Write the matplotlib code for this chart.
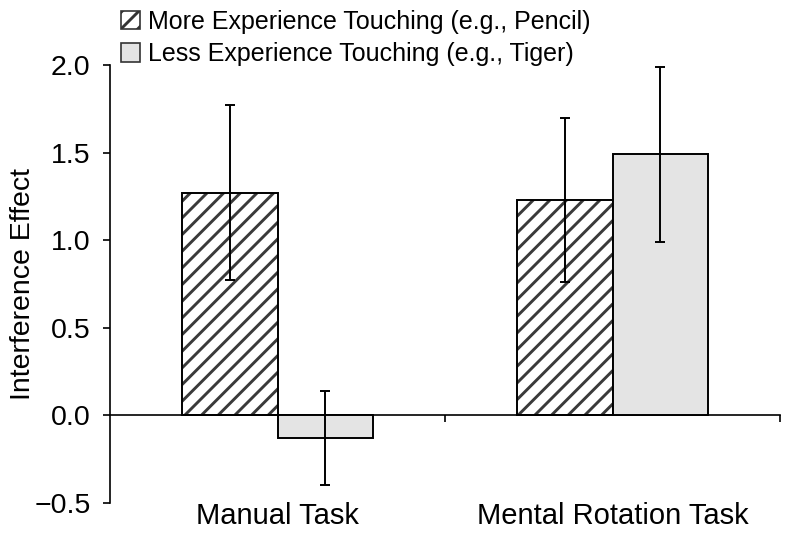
import matplotlib
matplotlib.use("Agg")
import matplotlib.pyplot as plt
from matplotlib.patches import Patch
import numpy as np

categories = ["Manual Task", "Mental Rotation Task"]
more_vals = [1.27, 1.23]
more_err = [0.50, 0.47]
less_vals = [-0.13, 1.49]
less_err = [0.27, 0.50]
series_labels = ["More Experience Touching (e.g., Pencil)", "Less Experience Touching (e.g., Tiger)"]
yticks = [-0.5, 0.0, 0.5, 1.0, 1.5, 2.0]

plt.rcParams['font.family'] = ['Liberation Sans', 'DejaVu Sans']
plt.rcParams['hatch.linewidth'] = 2.1

fig = plt.figure(figsize=(7.91, 5.35), dpi=100)
ax = fig.add_axes([110/791, 1-503/535, 670/791, 438/535])

x = np.arange(len(categories))
w = 0.286
xm = x - w/2
xl = x + w/2

# hatched bars
ax.bar(xm, more_vals, w, color='white', edgecolor='#3a3a3a', hatch='//', linewidth=0, zorder=2)
ax.bar(xm, more_vals, w, fill=False, edgecolor='black', linewidth=1.4, zorder=3)
ax.bar(xl, less_vals, w, color='#e4e4e4', edgecolor='black', linewidth=1.4, zorder=3)

ax.errorbar(xm, more_vals, yerr=more_err, fmt='none', ecolor='black', elinewidth=1.4, capsize=3.5, capthick=1.4, zorder=4)
ax.errorbar(xl, less_vals, yerr=less_err, fmt='none', ecolor='black', elinewidth=1.4, capsize=3.5, capthick=1.4, zorder=4)

ax.set_xlim(-0.5, 1.5)
ax.set_ylim(-0.5, 2.0)
ax.set_yticks(yticks)
ax.set_yticklabels([f"{v:.1f}".replace('-', '\u2212') for v in yticks], fontsize=20.5)
ax.tick_params(axis='y', length=5, width=1.2, pad=9)

for s in ['top', 'right']:
    ax.spines[s].set_visible(False)
ax.spines['left'].set_linewidth(1.2)
ax.spines['bottom'].set_position(('data', 0))
ax.spines['bottom'].set_linewidth(1.2)
ax.set_xticks([0.5, 1.5])
ax.set_xticklabels(['', ''])
ax.tick_params(axis='x', direction='out', length=5, width=1.2)

for xi, lab in zip(x, categories):
    ax.text(xi, -0.03, lab, transform=ax.get_xaxis_transform(), ha='center', va='center', fontsize=21)

ax.set_ylabel("Interference Effect", fontsize=20.5)
ax.yaxis.label.set_va('center')
ax.yaxis.set_label_coords(-0.13, 0.5)

handles = [Patch(facecolor='white', edgecolor='#333333', hatch='//', linewidth=1.2),
           Patch(facecolor='#e4e4e4', edgecolor='#333333', linewidth=1.2)]
fig.legend(handles, series_labels, loc='upper left', bbox_to_anchor=(116/791, 1 - 5/535), frameon=False,
           fontsize=18, handlelength=0.75, handleheight=0.75, handletextpad=0.35,
           labelspacing=0.33, borderaxespad=0.0, borderpad=0.2)

fig.savefig("out.png", dpi=100)
